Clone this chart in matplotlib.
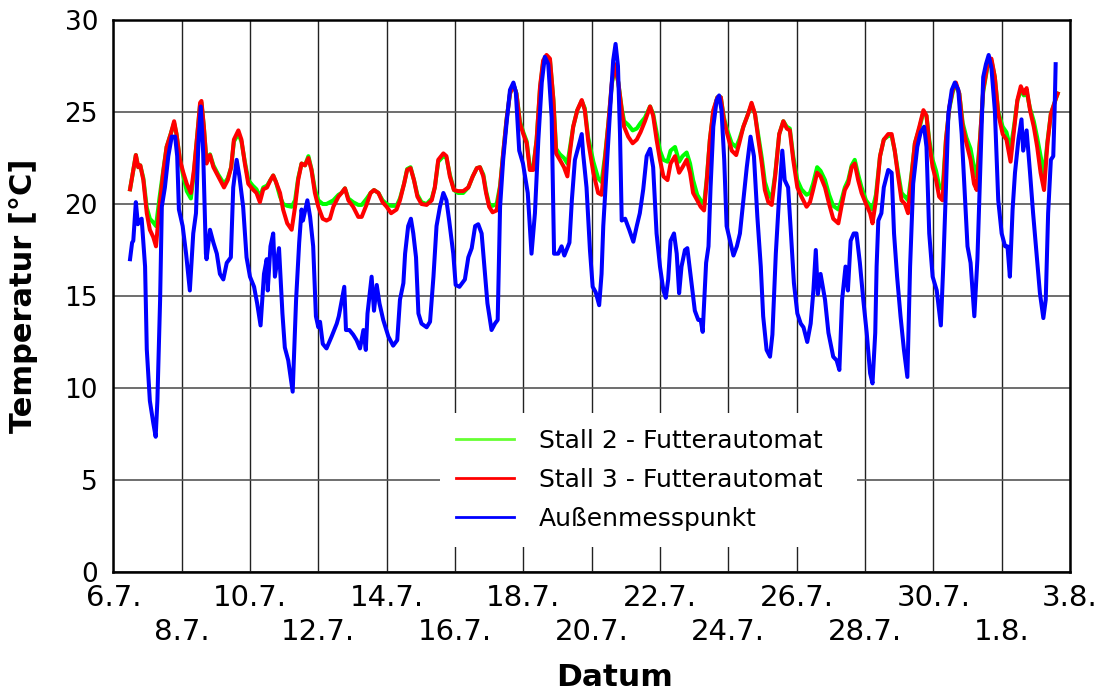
import matplotlib
matplotlib.use("Agg")
import matplotlib.pyplot as plt
from matplotlib.ticker import FixedLocator, FixedFormatter

# ---------------- data (time in days since 6.7. 00:00) ----------------
t_stall = [0.49, 0.585, 0.66, 0.73, 0.79, 0.88, 0.98, 1.07, 1.17, 1.25, 1.35, 1.46, 1.56, 1.68, 1.78, 1.85, 1.95,
           2.05, 2.15, 2.27, 2.36, 2.46, 2.54, 2.58, 2.65, 2.73, 2.83, 2.93, 3.07, 3.24, 3.35, 3.45, 3.53, 3.66,
           3.75, 3.85, 3.95, 4.08, 4.19, 4.29, 4.39, 4.5, 4.6, 4.68, 4.76, 4.88, 4.97, 5.09, 5.22, 5.32, 5.41,
           5.51, 5.61, 5.71, 5.8, 5.9, 6.0, 6.13, 6.24, 6.34, 6.44, 6.59, 6.68, 6.78, 6.88, 7.02, 7.17, 7.27,
           7.42, 7.53, 7.63, 7.76, 7.88, 8.0, 8.13, 8.29, 8.39, 8.51, 8.6, 8.7, 8.8, 8.9, 9.02, 9.17, 9.32, 9.41,
           9.51, 9.66, 9.75, 9.85, 9.97, 10.09, 10.24, 10.39, 10.52, 10.64, 10.73, 10.83, 10.91, 11.0, 11.1,
           11.22, 11.32, 11.41, 11.51, 11.61, 11.71, 11.8, 11.9, 12.0, 12.1, 12.19, 12.29, 12.39, 12.49, 12.58,
           12.68, 12.78, 12.88, 12.96, 13.07, 13.19, 13.29, 13.36, 13.46, 13.58, 13.71, 13.8, 13.9, 14.05, 14.19,
           14.29, 14.39, 14.49, 14.59, 14.68, 14.78, 14.88, 14.95, 15.07, 15.2, 15.32, 15.43, 15.56, 15.71, 15.8,
           15.9, 16.0, 16.1, 16.22, 16.31, 16.44, 16.56, 16.66, 16.78, 16.88, 16.97, 17.09, 17.19, 17.29, 17.37,
           17.46, 17.56, 17.68, 17.78, 17.87, 17.97, 18.1, 18.23, 18.32, 18.44, 18.58, 18.68, 18.78, 18.88,
           18.98, 19.07, 19.17, 19.27, 19.37, 19.49, 19.61, 19.71, 19.8, 19.9, 20.02, 20.14, 20.29, 20.39, 20.48,
           20.6, 20.7, 20.83, 20.95, 21.07, 21.22, 21.31, 21.41, 21.51, 21.61, 21.7, 21.8, 21.9, 22.03, 22.15,
           22.22, 22.32, 22.44, 22.55, 22.68, 22.78, 22.87, 22.97, 23.07, 23.17, 23.26, 23.36, 23.46, 23.59,
           23.71, 23.8, 23.88, 23.98, 24.08, 24.17, 24.27, 24.37, 24.47, 24.57, 24.66, 24.76, 24.86, 24.97,
           25.09, 25.19, 25.27, 25.36, 25.46, 25.58, 25.7, 25.8, 25.9, 26.03, 26.14, 26.26, 26.36, 26.46, 26.56,
           26.65, 26.73, 26.83, 26.94, 27.04, 27.14, 27.24, 27.34, 27.44, 27.51, 27.6, 27.64]

stall3 = [20.8, 21.85, 22.66, 22.0, 22.1, 21.3, 19.5, 18.6, 18.2, 17.7, 19.85, 21.7, 23.1, 23.8, 24.5, 23.8, 22.4,
          21.7, 21.1, 20.6, 21.85, 23.8, 25.5, 25.6, 24.2, 22.2, 22.66, 22.0, 21.5, 20.9, 21.3, 22.0, 23.5, 24.0,
          23.5, 22.2, 21.1, 20.8, 20.6, 20.1, 20.8, 20.9, 21.3, 21.55, 21.2, 20.6, 19.7, 18.95, 18.6, 19.85, 21.3,
          22.2, 22.1, 22.5, 21.85, 20.6, 19.85, 19.2, 19.1, 19.2, 19.85, 20.4, 20.6, 20.85, 20.2, 19.85, 19.3, 19.3,
          20.0, 20.6, 20.76, 20.6, 20.1, 19.85, 19.5, 19.7, 20.2, 21.1, 21.85, 21.95, 21.3, 20.4, 20.0, 19.95, 20.2,
          20.9, 22.4, 22.75, 22.6, 21.5, 20.76, 20.7, 20.7, 20.9, 21.5, 21.95, 22.0, 21.5, 20.6, 19.85, 19.55,
          19.65, 20.9, 22.75, 24.6, 26.0, 26.5, 26.0, 24.4, 23.8, 23.3, 21.85, 21.85, 23.5, 26.4, 27.8,
          28.1, 27.9, 25.65, 22.75, 22.4, 22.0, 21.5, 22.75, 24.2, 25.1, 25.65, 25.1, 23.4, 21.7, 20.6,
          20.5, 22.4, 24.4, 26.6, 27.6, 26.6, 25.1, 24.2, 23.66, 23.3, 23.5, 23.9, 24.5, 25.3, 24.8,
          23.5, 22.4, 21.5, 21.3, 22.2, 22.6, 21.7, 22.0, 22.4, 21.7, 20.6, 20.2, 19.85, 19.65, 21.3,
          23.5, 25.1, 25.8, 25.8, 24.6, 23.8, 22.9, 22.66, 23.3, 24.2, 24.9, 25.5, 24.9, 23.5,
          22.2, 20.76, 20.1, 19.95, 21.5, 23.8, 24.5, 24.1, 24.0, 22.4, 20.9, 20.4, 19.85, 20.1, 20.76,
          21.7, 21.5, 20.9, 20.0, 19.2, 18.95, 19.85, 20.76, 21.1, 22.0, 22.2, 21.3, 20.6, 20.0, 19.5,
          18.95, 20.2, 22.6, 23.5, 23.8, 23.8, 22.9, 21.5, 20.2, 20.0, 19.5, 21.5, 23.3, 24.2,
          25.1, 24.8, 23.3, 22.0, 21.3, 20.4, 20.2, 23.5, 25.3, 26.2, 26.6, 26.0, 24.2, 23.3,
          22.4, 21.1, 20.76, 23.3, 26.2, 27.5, 27.9, 26.9, 24.9, 23.8, 23.5, 22.3, 24.0, 25.65, 26.4,
          26.0, 26.3, 25.1, 24.2, 23.1, 21.7, 20.76, 23.3, 24.9, 25.3, 25.8, 26.0]

stall2 = [20.8, 21.85, 22.66, 22.0, 22.1, 21.4, 19.8, 19.2, 19.0, 18.8, 20.3, 21.8, 23.1, 23.8, 24.4, 23.8, 22.4,
          21.5, 20.7, 20.3, 21.7, 23.8, 25.4, 25.5, 24.2, 22.3, 22.7, 22.1, 21.6, 21.1, 21.4, 22.0, 23.4, 23.8,
          23.4, 22.3, 21.3, 21.0, 20.8, 20.4, 20.9, 21.0, 21.3, 21.55, 21.2, 20.4, 20.0, 19.9, 19.85, 20.2, 21.4,
          22.2, 22.1, 22.6, 21.9, 20.8, 20.2, 20.0, 20.0, 20.1, 20.2, 20.5, 20.6, 20.85, 20.3, 20.1, 19.95, 19.95,
          20.3, 20.6, 20.76, 20.6, 20.2, 20.0, 19.9, 19.9, 20.3, 21.1, 21.9, 22.0, 21.3, 20.5, 20.1, 20.0, 20.3,
          20.9, 22.3, 22.6, 22.5, 21.6, 20.76, 20.6, 20.6, 20.9, 21.5, 21.95, 22.0, 21.6, 20.7, 20.0, 19.9,
          20.0, 21.0, 22.75, 24.6, 26.0, 26.5, 26.0, 24.5, 23.9, 23.4, 22.0, 22.0, 23.5, 26.3, 27.7,
          28.0, 27.8, 25.7, 23.0, 22.7, 22.5, 22.2, 23.0, 24.2, 25.1, 25.6, 25.2, 23.6, 22.3, 21.4,
          21.2, 22.6, 24.4, 26.5, 27.5, 26.6, 25.2, 24.5, 24.3, 24.0, 24.1, 24.4, 24.7, 25.3, 24.9,
          23.9, 22.9, 22.4, 22.3, 22.9, 23.1, 22.3, 22.6, 22.8, 22.2, 21.3, 20.5, 20.2, 20.0, 21.4,
          23.5, 25.0, 25.8, 25.8, 24.7, 24.0, 23.3, 23.1, 23.5, 24.2, 24.9, 25.4, 24.9, 23.7,
          22.5, 21.2, 20.6, 20.3, 21.6, 23.8, 24.5, 24.2, 24.1, 22.6, 21.3, 20.8, 20.5, 20.6, 21.1,
          22.0, 21.8, 21.3, 20.5, 19.9, 19.7, 20.2, 20.9, 21.3, 22.1, 22.4, 21.6, 20.9, 20.2, 19.9,
          19.7, 20.5, 22.6, 23.5, 23.7, 23.7, 22.9, 21.7, 20.6, 20.4, 20.2, 21.6, 23.3, 24.1,
          25.0, 24.8, 23.5, 22.4, 21.8, 21.0, 20.8, 23.5, 25.2, 26.1, 26.5, 26.0, 24.4, 23.6,
          23.0, 22.0, 21.5, 23.4, 26.1, 27.4, 27.8, 26.9, 25.0, 24.2, 23.9, 23.0, 24.2, 25.6, 26.2,
          25.9, 26.1, 25.2, 24.5, 23.6, 22.6, 21.6, 23.4, 24.9, 25.3, 25.8, 26.0]

t_aussen = [0.49, 0.55, 0.585, 0.66, 0.72, 0.76, 0.83, 0.93, 0.98, 1.07, 1.17, 1.24, 1.29, 1.37, 1.42, 1.51, 1.61,
            1.71, 1.81, 1.87, 1.92, 2.03, 2.13, 2.24, 2.34, 2.42, 2.49, 2.56, 2.63, 2.71, 2.73, 2.83, 2.93, 3.03,
            3.12, 3.22, 3.32, 3.44, 3.51, 3.61, 3.69, 3.8, 3.9, 4.0, 4.12, 4.21, 4.31, 4.41, 4.49, 4.52, 4.6, 4.68,
            4.73, 4.85, 4.95, 5.02, 5.12, 5.25, 5.35, 5.44, 5.51, 5.55, 5.68, 5.76, 5.85, 5.93, 6.0, 6.05, 6.13,
            6.24, 6.39, 6.54, 6.6, 6.76, 6.81, 6.91, 7.02, 7.12, 7.22, 7.32, 7.39, 7.44, 7.56, 7.63, 7.71, 7.79,
            7.9, 8.05, 8.19, 8.31, 8.39, 8.49, 8.54, 8.63, 8.71, 8.78, 8.86, 8.93, 9.02, 9.17, 9.27, 9.37, 9.46,
            9.56, 9.66, 9.75, 9.83, 9.95, 10.02, 10.13, 10.29, 10.39, 10.49, 10.59, 10.68, 10.78, 10.88, 10.95,
            11.07, 11.17, 11.25, 11.32, 11.41, 11.51, 11.61, 11.71, 11.78, 11.88, 11.99, 12.13, 12.24, 12.34,
            12.44, 12.54, 12.63, 12.73, 12.83, 12.9, 13.02, 13.12, 13.2, 13.35, 13.42, 13.51, 13.61, 13.71, 13.75,
            13.85, 13.95, 14.03, 14.12, 14.22, 14.29, 14.34, 14.44, 14.54, 14.63, 14.7, 14.77, 14.83, 14.88,
            14.98, 15.1, 15.22, 15.32, 15.41, 15.51, 15.61, 15.71, 15.8, 15.9, 16.0, 16.1, 16.17, 16.24, 16.31,
            16.41, 16.49, 16.56, 16.63, 16.73, 16.8, 16.9, 17.02, 17.12, 17.19, 17.25, 17.35, 17.42, 17.48,
            17.56, 17.66, 17.73, 17.8, 17.88, 17.95, 18.05, 18.15, 18.25, 18.34, 18.44, 18.54, 18.65, 18.75,
            18.85, 18.95, 19.02, 19.12, 19.22, 19.29, 19.39, 19.48, 19.58, 19.65, 19.75, 19.82, 19.92, 20.02,
            20.12, 20.2, 20.31, 20.41, 20.49, 20.56, 20.62, 20.7, 20.83, 20.93, 21.07, 21.17, 21.25, 21.33,
            21.43, 21.5, 21.58, 21.67, 21.75, 21.85, 21.95, 22.05, 22.15, 22.22, 22.3, 22.34, 22.39, 22.48,
            22.55, 22.68, 22.78, 22.85, 22.94, 23.04, 23.14, 23.24, 23.32, 23.41, 23.53, 23.63, 23.73, 23.8,
            23.88, 23.98, 24.1, 24.22, 24.29, 24.37, 24.44, 24.54, 24.63, 24.73, 24.83, 24.93, 25.0, 25.09,
            25.2, 25.29, 25.37, 25.46, 25.54, 25.62, 25.7, 25.8, 25.9, 26.0, 26.1, 26.17, 26.24, 26.32, 26.39,
            26.49, 26.58, 26.63, 26.73, 26.83, 26.92, 27.02, 27.12, 27.22, 27.29, 27.36, 27.44, 27.51, 27.55,
            27.58]

aussen = [17.0, 17.9, 18.0, 20.1, 18.9, 19.1, 19.2, 16.6, 12.1, 9.3, 8.1, 7.35, 9.3, 14.8, 19.85, 20.9, 22.6,
          23.66, 23.66, 22.6, 19.7, 18.8, 17.3, 15.3, 18.4, 19.5, 23.3, 25.3, 22.8, 17.3, 17.0, 18.6, 17.9, 17.3,
          16.2, 15.9, 16.8, 17.1, 20.9, 22.4, 21.5, 19.85, 17.1, 16.05, 15.5, 14.6, 13.4, 16.2, 17.0, 15.3, 17.7,
          18.4, 16.05, 17.6, 14.05, 12.2, 11.5, 9.8, 14.8, 17.9, 19.7, 19.1, 20.2, 19.3, 17.7, 13.9, 13.3, 13.6,
          12.4, 12.15, 12.8, 13.5, 13.9, 15.5, 13.15, 13.15, 12.9, 12.6, 12.15, 13.15, 12.07, 14.05, 16.05, 14.2,
          15.6, 14.6, 13.7, 12.8, 12.3, 12.6, 14.8, 15.7, 17.3, 18.8, 19.2, 18.4, 17.1, 14.05, 13.5, 13.3, 13.6,
          16.05, 18.8, 19.85, 20.6, 20.2, 19.1, 17.3, 15.6, 15.5, 15.9, 17.1, 17.6, 18.8, 18.9, 18.4, 16.2, 14.6,
          13.15, 13.5, 13.7, 19.85, 22.4, 24.4, 26.2, 26.6, 26.1, 22.9, 22.2, 20.6, 17.3, 19.5, 23.5, 26.6, 28.0,
          27.6, 24.7, 17.3, 17.3, 17.7, 17.2, 17.9, 20.2, 22.4, 23.1, 23.8, 22.75, 20.9, 17.5, 15.5, 15.2, 14.5,
          16.2, 18.8, 22.0, 25.1, 27.8, 28.7, 27.5, 23.8, 19.1, 19.2, 18.6, 17.95, 18.8, 19.5, 20.8, 22.6, 23.0,
          22.0, 18.4, 16.6, 15.3, 14.9, 15.9, 18.0, 18.4, 17.3, 15.15, 16.6, 17.5, 17.6, 16.05, 14.2, 13.7, 13.7,
          13.05, 16.8, 17.7, 20.9, 24.2, 25.65, 25.9, 25.1, 22.4, 18.8, 18.0, 17.2, 17.7, 18.4, 20.2, 22.0,
          23.66, 22.6, 19.3, 16.6, 13.9, 12.07, 11.7, 12.9, 17.3, 20.2, 22.9, 21.3, 20.9, 18.8, 15.7, 14.05,
          13.5, 13.3, 12.5, 13.5, 15.3, 17.5, 15.1, 16.2, 14.8, 13.0, 11.7, 11.5, 10.98, 14.8, 16.6, 15.3, 18.0,
          18.4, 18.4, 16.8, 14.8, 13.0, 10.8, 10.25, 13.0, 16.6, 19.1, 19.5, 20.9, 21.85, 21.7, 18.4, 16.05, 13.9,
          12.07, 10.6, 16.6, 21.1, 23.1, 23.9, 24.2, 23.1, 18.4, 16.05, 15.3, 13.4, 16.6, 20.9, 24.9, 26.2, 26.6,
          26.2, 23.8, 20.2, 17.7, 16.8, 13.9, 17.0, 21.7, 26.9, 27.6, 28.1, 27.4, 25.1, 20.2, 18.4, 17.7, 17.7,
          16.05, 19.7, 21.7, 23.5, 24.6, 22.9, 24.0, 21.7, 19.5, 17.3, 15.15, 13.8, 14.8, 19.5, 22.4, 22.6, 25.1,
          27.6]

series_labels = ["Stall 2 - Futterautomat", "Stall 3 - Futterautomat", "Außenmesspunkt"]

row1_days = [0, 4, 8, 12, 16, 20, 24, 28]
row1_labels = ["6.7.", "10.7.", "14.7.", "18.7.", "22.7.", "26.7.", "30.7.", "3.8."]
row2_days = [2, 6, 10, 14, 18, 22, 26]
row2_labels = ["8.7.", "12.7.", "16.7.", "20.7.", "24.7.", "28.7.", "1.8."]
y_ticks = [0, 5, 10, 15, 20, 25, 30]

# ---------------- figure ----------------
plt.rcParams['font.family'] = ['DejaVu Sans']
fig = plt.figure(figsize=(11.07, 6.93), dpi=100)
ax = fig.add_axes([113.3 / 1107, 121 / 693, (1070 - 113.3) / 1107, (572 - 20) / 693])

lw = 2.9
ax.plot(t_stall, stall2, color="#00ff00", lw=lw, label=series_labels[0], zorder=3)
ax.plot(t_stall, stall3, color="#ff0000", lw=lw, label=series_labels[1], zorder=4)
ax.plot(t_aussen, aussen, color="#0000ff", lw=lw, label=series_labels[2], zorder=5)

ax.set_xlim(0, 28)
ax.set_ylim(0, 30)

ax.xaxis.set_major_locator(FixedLocator(row1_days))
ax.xaxis.set_major_formatter(FixedFormatter(row1_labels))
ax.xaxis.set_minor_locator(FixedLocator(row2_days))
ax.xaxis.set_minor_formatter(FixedFormatter(row2_labels))
ax.set_yticks(y_ticks)
ax.set_yticklabels([str(v) for v in y_ticks])

ax.tick_params(axis="x", which="major", length=0, pad=9, labelsize=21)
ax.tick_params(axis="x", which="minor", length=0, pad=33, labelsize=21)
ax.tick_params(axis="y", length=0, pad=11, labelsize=19)

ax.grid(True, which="both", axis="x", color="#222222", lw=1.0, zorder=1)
ax.grid(True, which="major", axis="y", color="#555555", lw=1.2, zorder=1)
ax.set_axisbelow(True)
for s in ax.spines.values():
    s.set_linewidth(1.8)
    s.set_color("black")
    s.set_zorder(6)

ax.set_ylabel("Temperatur [°C]", fontsize=22, fontweight="bold", labelpad=19)
fig.text(615 / 1107, 1 - 677 / 693, "Datum", fontsize=22.5, fontweight="bold", ha="center", va="center")

leg = ax.legend(loc="upper left", bbox_to_anchor=(0.3415, 0.0435, 0.4355, 0.2445), mode="expand",
                borderaxespad=0, fontsize=18, frameon=True, facecolor="white", edgecolor="none",
                framealpha=1, fancybox=False, handlelength=2.3, handletextpad=1.0, labelspacing=0.6,
                borderpad=0.64)
leg.set_zorder(7)
legend_handle_colors = ["#66ff33", "#ff0000", "#0000ff"]
for h, c in zip(leg.get_lines(), legend_handle_colors):
    h.set_linewidth(2.0)
    h.set_color(c)

fig.savefig("out.png", dpi=100)
